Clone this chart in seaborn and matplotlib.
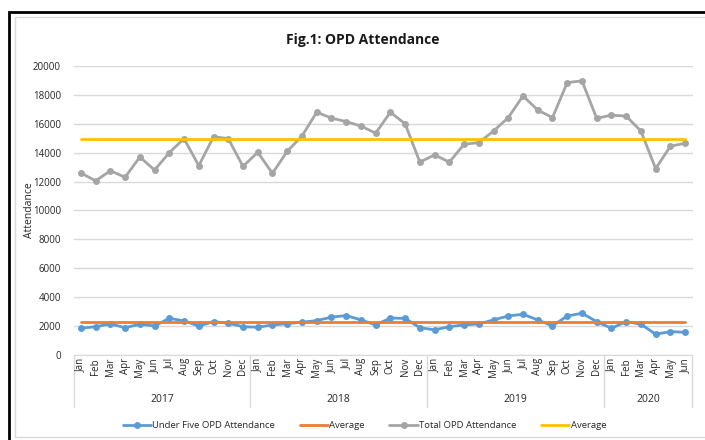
import matplotlib
matplotlib.use("Agg")
import matplotlib.pyplot as plt
import pandas as pd
import seaborn as sns
from matplotlib.patches import Rectangle

sns.set_style("white")
plt.rcParams["font.family"] = ["Open Sans", "DejaVu Sans"]

# ── Data ─────────────────────────────────────────────────────────────
months = ["Jan", "Feb", "Mar", "Apr", "May", "Jun",
          "Jul", "Aug", "Sep", "Oct", "Nov", "Dec"]
years = ["2017", "2018", "2019", "2020"]
months_per_year = [12, 12, 12, 6]

total_opd = [12600, 12050, 12750, 12300, 13700, 12800, 14000, 14980, 13100, 15100, 14980, 13050,
             14030, 12570, 14100, 15150, 16800, 16400, 16150, 15850, 15350, 16800, 16000, 13350,
             13850, 13350, 14580, 14700, 15500, 16430, 17930, 16950, 16430, 18850, 18970, 16380,
             16600, 16530, 15500, 12900, 14450, 14650]
under_five = [1850, 1960, 2150, 1890, 2130, 2010, 2540, 2360, 2010, 2310, 2200, 1960,
              1920, 2080, 2170, 2270, 2380, 2620, 2730, 2430, 2080, 2560, 2530, 1890,
              1740, 1960, 2080, 2150, 2430, 2700, 2820, 2430, 2010, 2700, 2890, 2310,
              1850, 2310, 2130, 1440, 1620, 1570]
total_avg = 14950
under_five_avg = 2270

month_labels = [m for y, n in zip(years, months_per_year) for m in months[:n]]
x = list(range(len(month_labels)))

df = pd.DataFrame({
    "x": x,
    "under_five": under_five,
    "under_five_avg": [under_five_avg] * len(x),
    "total": total_opd,
    "total_avg": [total_avg] * len(x),
})

BLUE, ORANGE, GREY, YELLOW = "#5B9BD5", "#ED7D31", "#A5A5A5", "#FFC000"

fig = plt.figure(figsize=(7.05, 4.40), dpi=100)
ax = fig.add_axes([73.5 / 705, 1 - 355 / 440, (692.5 - 73.5) / 705, (355 - 66) / 440])

# frame of the screenshot
fig.patches.append(Rectangle((9 / 705, -0.05), 1.2, 1 - 12 / 440 + 0.05,
                             transform=fig.transFigure, fill=False, lw=2, ec="black"))
fig.patches.append(Rectangle((15 / 705, 3 / 440), 1.2, 1 - 20 / 440,
                             transform=fig.transFigure, fill=False, lw=1, ec="#D9D9D9"))

sns.lineplot(data=df, x="x", y="under_five", ax=ax, color=BLUE, lw=2,
             marker="o", markersize=5, markeredgewidth=0, label="Under Five OPD Attendance")
sns.lineplot(data=df, x="x", y="under_five_avg", ax=ax, color=ORANGE, lw=2, label="Average")
sns.lineplot(data=df, x="x", y="total", ax=ax, color=GREY, lw=2,
             marker="o", markersize=5, markeredgewidth=0, label="Total OPD Attendance")
sns.lineplot(data=df, x="x", y="total_avg", ax=ax, color=YELLOW, lw=2, label="Average")

ax.set_xlim(-0.5, len(x) - 0.5)
ax.set_ylim(0, 20000)
ax.set_yticks(range(0, 20001, 2000))
ax.yaxis.grid(True, color="#D9D9D9", lw=1)
ax.set_axisbelow(True)
for s in ["top", "right", "left"]:
    ax.spines[s].set_visible(False)
ax.spines["bottom"].set_color("#D9D9D9")
ax.tick_params(axis="y", labelsize=7, length=0, pad=9, labelcolor="#262626")
ax.set_xticks([])
ax.set_xlabel("")
ax.set_ylabel("Attendance", fontsize=7.5, labelpad=2, color="#262626")
ax.yaxis.set_label_coords(-0.062, 0.5)

# two-level category axis
trans = ax.get_xaxis_transform()
for i, m in enumerate(month_labels):
    ax.text(i, -0.01, m, transform=trans, rotation=90, ha="center", va="top",
            fontsize=7, color="#262626")
start = 0
bounds = [-0.5]
for y, n in zip(years, months_per_year):
    ax.text(start + (n - 1) / 2, -0.155, y, transform=trans, ha="center", va="center",
            fontsize=7.5, color="#262626")
    start += n
    bounds.append(start - 0.5)
for b in bounds:
    ax.plot([b, b], [0, -0.18], transform=trans, color="#D9D9D9", lw=1, clip_on=False)

ax.legend(loc="upper center", bbox_to_anchor=(0.47, -0.2), ncol=4, frameon=False,
          fontsize=6.8, handlelength=3.0, columnspacing=2.6, handletextpad=0.15)

fig.text(0.514, 1 - 40 / 440, "Fig.1: OPD Attendance", ha="center", va="center",
         fontsize=10, fontweight="bold", color="#1a1a1a")

fig.savefig("out.png", dpi=100)
